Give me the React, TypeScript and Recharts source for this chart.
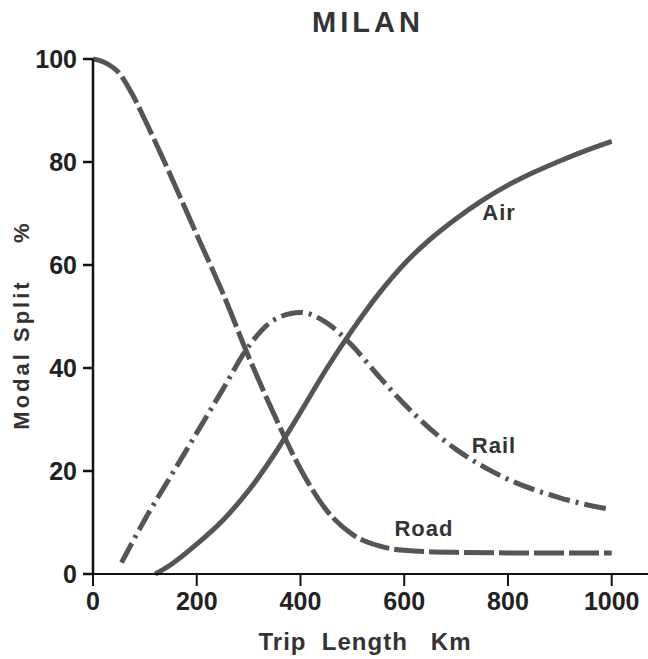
import { LineChart, Line, XAxis, YAxis, ReferenceDot } from 'recharts'

// trip length (km) and modal share (%)
const roadKm = [0, 25, 50, 75, 100, 150, 200, 250, 300, 350, 400, 450, 500, 550, 600, 700, 800, 900, 1000]
const roadShare = [100, 99.2, 97.3, 93.3, 88.2, 77.3, 65.9, 54.6, 42.2, 30.8, 20.4, 12.4, 7.7, 5.5, 4.6, 4.2, 4.1, 4.1, 4.1]

const railKm = [55, 100, 150, 200, 250, 300, 350, 400, 450, 500, 550, 600, 650, 700, 750, 800, 850, 900, 950, 1000]
const railShare = [2.2, 10.6, 19, 27.4, 35.8, 44.2, 49.4, 50.8, 48.8, 44.3, 38.5, 33, 28.2, 24.2, 21, 18.4, 16.4, 14.8, 13.5, 12.5]

const airKm = [120, 150, 200, 250, 300, 350, 400, 450, 500, 550, 600, 650, 700, 750, 800, 850, 900, 950, 1000]
const airShare = [0, 1.8, 5.8, 10.4, 16.2, 23.3, 31.4, 39.8, 47.4, 54.3, 60.2, 65, 69, 72.5, 75.5, 78, 80.2, 82.2, 84]

const xTicks = [0, 200, 400, 600, 800, 1000]
const yTicks = [0, 20, 40, 60, 80, 100]

const toRows = (km: number[], share: number[]) => km.map((k, i) => ({ km: k, share: share[i] }))

const font = '"Liberation Sans", Arial, sans-serif'
const ink = '#222'
const curve = '#555'

const tickStyle = { fontSize: 25, fontWeight: 'bold', fill: ink, fontFamily: font }

const curveLabel = (value: string) => ({
  value,
  position: 'center' as const,
  style: { fontSize: 22, fontWeight: 'bold', fill: '#333', fontFamily: font, letterSpacing: 1 }
})

const App = () => {
  const road = toRows(roadKm, roadShare)
  const rail = toRows(railKm, railShare)
  const air = toRows(airKm, airShare)

  return (
    <div style={{ position: 'absolute', left: 0, top: 0, width: 648, height: 659, background: '#fff' }}>
      <LineChart width={648} height={659} margin={{ top: 59, right: 0, left: 0, bottom: 0 }}>
        <XAxis
          type="number"
          dataKey="km"
          domain={[0, 1070]}
          ticks={xTicks}
          allowDataOverflow
          height={85}
          tick={tickStyle}
          tickSize={12}
          tickMargin={6}
          stroke="#111"
          strokeWidth={2}
        />
        <YAxis
          type="number"
          domain={[0, 100]}
          ticks={yTicks}
          width={93}
          tick={tickStyle}
          tickSize={10}
          tickMargin={6}
          stroke="#111"
          strokeWidth={2.5}
        />
        {/* Road: long dashes */}
        <Line
          data={road}
          dataKey="share"
          type="monotone"
          stroke={curve}
          strokeWidth={5}
          strokeDasharray="30 5"
          dot={false}
          isAnimationActive={false}
        />
        {/* Rail: dash-dot */}
        <Line
          data={rail}
          dataKey="share"
          type="monotone"
          stroke={curve}
          strokeWidth={5}
          strokeDasharray="22 6 3 6"
          dot={false}
          isAnimationActive={false}
        />
        {/* Air: solid */}
        <Line
          data={air}
          dataKey="share"
          type="monotone"
          stroke={curve}
          strokeWidth={5}
          dot={false}
          isAnimationActive={false}
        />
        <ReferenceDot x={783} y={70.3} r={0} fill="none" stroke="none" label={curveLabel('Air')} />
        <ReferenceDot x={773} y={25} r={0} fill="none" stroke="none" label={curveLabel('Rail')} />
        <ReferenceDot x={638} y={8.9} r={0} fill="none" stroke="none" label={curveLabel('Road')} />
      </LineChart>
      <div
        style={{
          position: 'absolute',
          left: 218,
          top: 6,
          width: 300,
          lineHeight: '32px',
          textAlign: 'center',
          fontFamily: font,
          fontWeight: 'bold',
          fontSize: 29,
          letterSpacing: 4,
          color: '#333'
        }}
      >
        MILAN
      </div>
      <div
        style={{
          position: 'absolute',
          left: 22 - 140,
          top: 325 - 15,
          width: 280,
          height: 30,
          lineHeight: '30px',
          textAlign: 'center',
          transform: 'rotate(-90deg)',
          whiteSpace: 'pre',
          fontFamily: font,
          fontWeight: 'bold',
          fontSize: 22,
          letterSpacing: 3,
          color: '#333'
        }}
      >
        {'Modal Split    %'}
      </div>
      <div
        style={{
          position: 'absolute',
          left: 165,
          top: 627,
          width: 400,
          lineHeight: '30px',
          textAlign: 'center',
          whiteSpace: 'pre',
          fontFamily: font,
          fontWeight: 'bold',
          fontSize: 24,
          letterSpacing: 1,
          color: '#333'
        }}
      >
        {'Trip  Length   Km'}
      </div>
    </div>
  )
}

export default App
